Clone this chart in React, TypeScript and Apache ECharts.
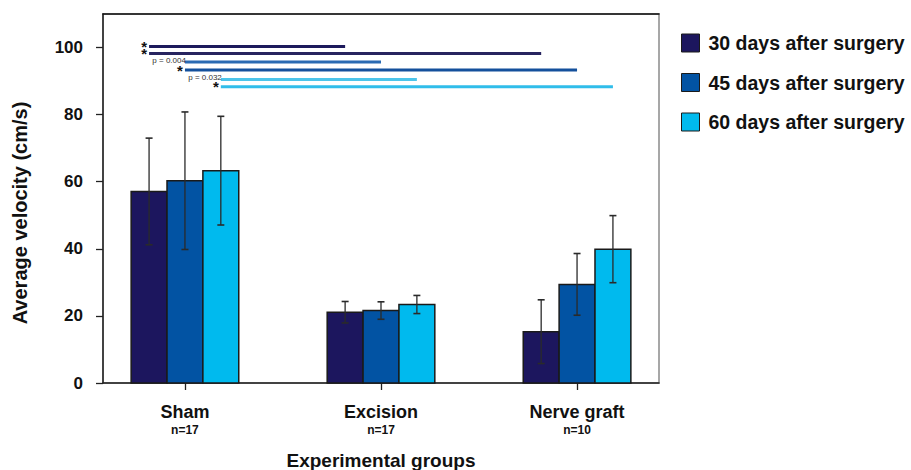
import React, { useEffect, useRef } from "react";
import * as echarts from "echarts";

const categories = ["Sham", "Excision", "Nerve graft"];
const groupSizes = ["n=17", "n=17", "n=10"];
const seriesNames = ["30 days after surgery", "45 days after surgery", "60 days after surgery"];
const mean30 = [57.1, 21.1, 15.3];
const err30 = [15.9, 3.2, 9.5];
const mean45 = [60.3, 21.6, 29.4];
const err45 = [20.5, 2.6, 9.2];
const mean60 = [63.3, 23.4, 39.9];
const err60 = [16.2, 2.7, 10.0];
const yTicks = [0, 20, 40, 60, 80, 100];

// significance bars: from Sham to end group, for time point index
const sigEndGroup = [1, 2, 1, 2, 1, 2];
const sigTimePoint = [0, 0, 1, 1, 2, 2];
const sigLevel = [100.3, 98.2, 95.7, 93.3, 90.5, 88.3];
const sigLabels = ["*", "*", "p = 0.004", "*", "p = 0.032", "*"];

const barColors = ["#1c165e", "#0253a3", "#00baee"];
const sigColors = ["#1d1a5c", "#27245f", "#2b6bb3", "#14509c", "#4cc4ea", "#30bdea"];
const FONT = "'Liberation Sans', Arial, Helvetica, sans-serif";
const BAR_FRAC = 0.183;

export default function App() {
  const ref = useRef<HTMLDivElement>(null);
  useEffect(() => {
    if (!ref.current) return;
    document.body.style.margin = "0";
    const chart = echarts.init(ref.current, null, { renderer: "svg" });
    const means = [mean30, mean45, mean60];
    const errs = [err30, err45, err60];

    const barSeries = seriesNames.map((name, k) => ({
      name,
      type: "custom",
      itemStyle: { color: barColors[k], borderColor: "#1a1a1a", borderWidth: 1 },
      encode: { x: 0, y: 1 },
      data: categories.map((_, i) => [i, means[k][i], errs[k][i]]),
      renderItem: (params: any, api: any) => {
        const x = api.value(0);
        const v = api.value(1);
        const e = api.value(2);
        const unit = api.size([1, 0])[0];
        const bw = unit * BAR_FRAC;
        const base = api.coord([x, 0]);
        const top = api.coord([x, v]);
        const cx = base[0] + (k - 1) * bw;
        const hi = api.coord([x, v + e])[1];
        const lo = api.coord([x, v - e])[1];
        return {
          type: "group",
          children: [
            {
              type: "rect",
              shape: { x: cx - bw / 2, y: top[1], width: bw, height: base[1] - top[1] },
              style: { fill: barColors[k], stroke: "#1a1a1a", lineWidth: 1.5 },
            },
            {
              type: "line",
              shape: { x1: cx, y1: hi, x2: cx, y2: lo },
              style: { stroke: "#2a2a2a", lineWidth: 1.3 },
            },
            {
              type: "line",
              shape: { x1: cx - 3.5, y1: hi, x2: cx + 3.5, y2: hi },
              style: { stroke: "#2a2a2a", lineWidth: 1.6 },
            },
            {
              type: "line",
              shape: { x1: cx - 3.5, y1: lo, x2: cx + 3.5, y2: lo },
              style: { stroke: "#2a2a2a", lineWidth: 1.6 },
            },
          ],
        };
      },
    }));

    const sigSeries = {
      name: "sig",
      type: "custom",
      encode: { x: 0, y: 2 },
      silent: true,
      data: sigEndGroup.map((g, i) => [g, sigTimePoint[i], sigLevel[i], i]),
      renderItem: (params: any, api: any) => {
        const g = api.value(0);
        const k = api.value(1);
        const yv = api.value(2);
        const idx = api.value(3);
        const unit = api.size([1, 0])[0];
        const bw = unit * BAR_FRAC;
        const p0 = api.coord([0, yv]);
        const p1 = api.coord([g, yv]);
        const x0 = p0[0] + (k - 1) * bw;
        const x1 = p1[0] + (k - 1) * bw;
        const lab = sigLabels[idx];
        const isStar = lab === "*";
        return {
          type: "group",
          children: [
            {
              type: "line",
              shape: { x1: x0, y1: p0[1], x2: x1, y2: p0[1] },
              style: { stroke: sigColors[idx], lineWidth: 3 },
            },
            {
              type: "text",
              x: isStar ? x0 - 2 : x0 + 1,
              y: isStar ? p0[1] : p0[1] - 1.5,
              style: {
                text: lab,
                fill: isStar ? "#111" : "#333",
                font: isStar ? `bold 15px ${FONT}` : `8px ${FONT}`,
                lineHeight: isStar ? 8 : 8,
                align: "right",
                verticalAlign: "middle",
              },
            },
          ],
        };
      },
    };

    chart.setOption({
      animation: false,
      textStyle: { fontFamily: FONT },
      grid: {
        left: 103,
        right: 252,
        top: 14,
        bottom: 87,
        outerBoundsMode: "none",
        containLabel: false,
        show: true,
        borderColor: "#8a8a8a",
        borderWidth: 1.5,
      },
      legend: {
        data: seriesNames.map((n, k) => ({
          name: n,
          itemStyle: { color: barColors[k], borderColor: "#1a1a1a", borderWidth: 1 },
        })),
        orient: "vertical",
        left: 681,
        top: 33,
        padding: 0,
        icon: "rect",
        itemWidth: 18,
        itemHeight: 18,
        itemGap: 19.5,
        selectedMode: false,
        textStyle: {
          fontFamily: FONT,
          fontWeight: "bold",
          fontSize: 19.5,
          lineHeight: 20,
          color: "#111",
          padding: [0, 0, 0, 4],
        },
      },
      graphic: [
        {
          type: "text",
          x: 20,
          y: 213,
          rotation: Math.PI / 2,
          style: {
            text: "Average velocity (cm/s)",
            font: `bold 20px ${FONT}`,
            fill: "#111",
            align: "center",
            verticalAlign: "middle",
          },
        },
      ],
      xAxis: [
        {
          type: "value",
          min: -0.418,
          max: 2.418,
          position: "bottom",
          splitLine: { show: false },
          axisLine: { onZero: false, lineStyle: { color: "#222", width: 1.5 } },
          axisTick: { customValues: [0, 1, 2], length: 7, lineStyle: { color: "#222", width: 1.3 } },
          axisLabel: {
            customValues: [0, 1, 2],
            margin: 19,
            formatter: (v: number) => `{a|${categories[Math.round(v)]}}\n{b|${groupSizes[Math.round(v)]}}`,
            rich: {
              a: { fontFamily: FONT, fontWeight: "bold", fontSize: 18, lineHeight: 20, color: "#111" },
              b: { fontFamily: FONT, fontWeight: "bold", fontSize: 12, lineHeight: 16, color: "#111" },
            },
          },
          name: "Experimental groups",
          nameLocation: "middle",
          nameGap: 68,
          nameTextStyle: { fontFamily: FONT, fontWeight: "bold", fontSize: 19, color: "#111" },
        },
        {
          type: "value",
          min: -0.418,
          max: 2.418,
          position: "top",
          splitLine: { show: false },
          axisLine: { onZero: false, lineStyle: { color: "#111", width: 1.5 } },
          axisTick: { show: false },
          axisLabel: { show: false },
        },
      ],
      yAxis: {
        type: "value",
        min: 0,
        max: 110,
        interval: 20,
        splitLine: { show: false },
        axisLine: { show: true, onZero: false, lineStyle: { color: "#222", width: 1.5 } },
        axisTick: { show: true, customValues: yTicks, length: 7, lineStyle: { color: "#222", width: 1.3 } },
        axisLabel: {
          customValues: yTicks,
          margin: 20,
          fontFamily: FONT,
          fontWeight: "bold",
          fontSize: 17,
          color: "#111",
        },
      },
      series: [...barSeries, sigSeries],
    });
    return () => chart.dispose();
  }, []);
  return <div ref={ref} style={{ width: 911, height: 470 }} />;
}
